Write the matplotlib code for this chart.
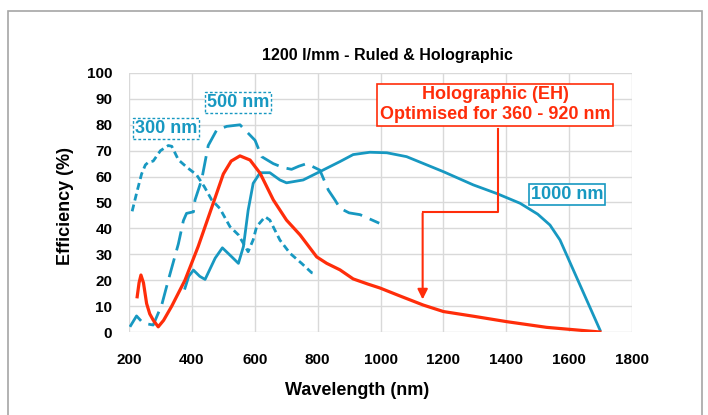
import matplotlib
matplotlib.use("Agg")
import matplotlib.pyplot as plt
from matplotlib.patches import Rectangle

plt.rcParams['font.family'] = ['Liberation Sans', 'DejaVu Sans']

BLUE = '#1798c1'
RED = '#ff2d0a'

# 300 nm blaze (ruled)
nm_300 = [210, 225, 240, 252, 261, 277, 300, 325, 336, 357, 385, 415, 440, 463, 489, 521, 548, 560, 579,
          595, 606, 633, 648, 680, 712, 749, 781, 792]
eff_300 = [46.6, 54, 61, 64.5, 65.5, 66, 70, 72, 71.7, 66.5, 63.5, 60.7, 56, 51, 47.7, 40.7, 37.5, 35, 31,
           35.6, 40.7, 44.5, 43.2, 35.5, 30.4, 26.5, 22.9, 22.5]

# 500 nm blaze (ruled)
nm_500 = [203, 224, 245, 277, 304, 325, 357, 373, 383, 405, 410, 431, 452, 479, 511, 553, 601,
          622, 659, 690, 717, 740, 765, 807, 834, 855, 871, 900, 935, 996]
eff_500 = [2, 6.2, 3.4, 2.7, 10.4, 20, 34, 43, 45.8, 46.4, 51, 58.7, 72, 78, 79.4, 80, 74,
           67.7, 65, 63.5, 62.8, 64, 65, 62.5, 54.8, 51, 47.8, 46, 45.3, 42]

# 1000 nm blaze (ruled)
nm_1000 = [378, 390, 405, 425, 442, 474, 497, 527, 548, 564, 579, 595, 617, 648, 680, 701, 754,
           807, 871, 913, 966, 1020, 1083, 1200, 1295, 1369, 1444, 1500, 1539, 1571, 1698]
eff_1000 = [16.9, 21.5, 23.9, 21.5, 20.3, 28.5, 32.5, 29, 26.5, 33, 47, 57.4, 61.5, 61.5, 58.7,
            57.6, 58.7, 61.9, 65.8, 68.5, 69.4, 69.2, 67.7, 61.9, 56.8, 53.5, 49.7, 45.5, 41.3,
            35.5, 0.8]

# Holographic (EH)
nm_eh = [226, 232, 238, 246, 256, 266, 277, 293, 310, 336, 378, 420, 463, 500, 525, 553, 585,
         617, 659, 701, 744, 797, 829, 871, 913, 960, 998, 1060, 1136, 1200, 1300, 1401, 1528, 1698]
eff_eh = [13.6, 19, 22, 19, 11, 7, 4.6, 2, 4.5, 10, 20, 33, 48, 61, 66, 68, 66.4,
          61.3, 51, 43.2, 37.5, 29, 26.5, 24, 20.5, 18.5, 17, 14, 10.4, 7.9, 6, 4, 1.8, 0]

fig = plt.figure(figsize=(7.08, 4.15), dpi=100)
ax = fig.add_axes([0.1822, 0.2, 0.7105, 0.6241])

# grey frame around the chart
fig.patches.append(Rectangle((8 / 708, -0.05), 694 / 708, 1.05 - 11 / 415,
                             transform=fig.transFigure, fill=False,
                             edgecolor='#a6a6a6', linewidth=1.2))

ax.plot(nm_300, eff_300, color=BLUE, lw=2.0, dashes=(2.5, 1.5), solid_capstyle='butt')
ax.plot(nm_500, eff_500, color=BLUE, lw=2.0, dashes=(7, 3))
ax.plot(nm_1000, eff_1000, color=BLUE, lw=2.0)
ax.plot(nm_eh, eff_eh, color=RED, lw=2.3)

ax.set_xlim(200, 1800)
ax.set_ylim(0, 100)
ax.set_xticks(range(200, 1801, 200))
ax.set_yticks(range(0, 101, 10))
ax.grid(True, color='#d9d9d9', lw=1)
ax.set_axisbelow(True)
for s in ax.spines.values():
    s.set_visible(False)
ax.tick_params(length=0, labelsize=11)
ax.tick_params(axis='x', pad=15)
ax.tick_params(axis='y', pad=12)
for lab in ax.get_xticklabels() + ax.get_yticklabels():
    lab.set_fontweight('bold')

ax.set_title('1200 l/mm - Ruled & Holographic', fontsize=11.5, fontweight='bold', pad=9, x=0.513)
ax.set_xlabel('Wavelength (nm)', fontsize=13, fontweight='bold', labelpad=11, x=0.453)
ax.set_ylabel('Efficiency (%)', fontsize=13, fontweight='bold', labelpad=9, y=0.488)

# annotations
ax.text(318, 78.6, '300 nm', color=BLUE, fontsize=13, fontweight='bold', ha='center', va='center',
        bbox=dict(boxstyle='square,pad=0.1', fc='white', ec=BLUE, ls=(0, (2, 1.5)), lw=1))
ax.text(548, 88.6, '500 nm', color=BLUE, fontsize=13, fontweight='bold', ha='center', va='center',
        bbox=dict(boxstyle='square,pad=0.1', fc='white', ec=BLUE, ls=(0, (2, 1.5)), lw=1))
ax.text(1593, 53, '1000 nm', color=BLUE, fontsize=13, fontweight='bold', ha='center', va='center',
        bbox=dict(boxstyle='square,pad=0.1', fc='white', ec=BLUE, lw=1.2))

ax.plot([1375, 1375, 1134], [78.5, 46.4, 46.4], color=RED, lw=1.5)
ax.annotate('', xy=(1134, 11.5), xytext=(1134, 46.9),
            arrowprops=dict(arrowstyle='-|>,head_length=0.6,head_width=0.3', color=RED, lw=1.5))
ax.text(1364, 87.8, 'Holographic (EH)\nOptimised for 360 - 920 nm', color=RED, fontsize=13,
        fontweight='bold', ha='center', va='center', linespacing=1.2,
        bbox=dict(boxstyle='square,pad=0.15', fc='white', ec=RED, lw=1.2))

fig.savefig('out.png', dpi=100)
